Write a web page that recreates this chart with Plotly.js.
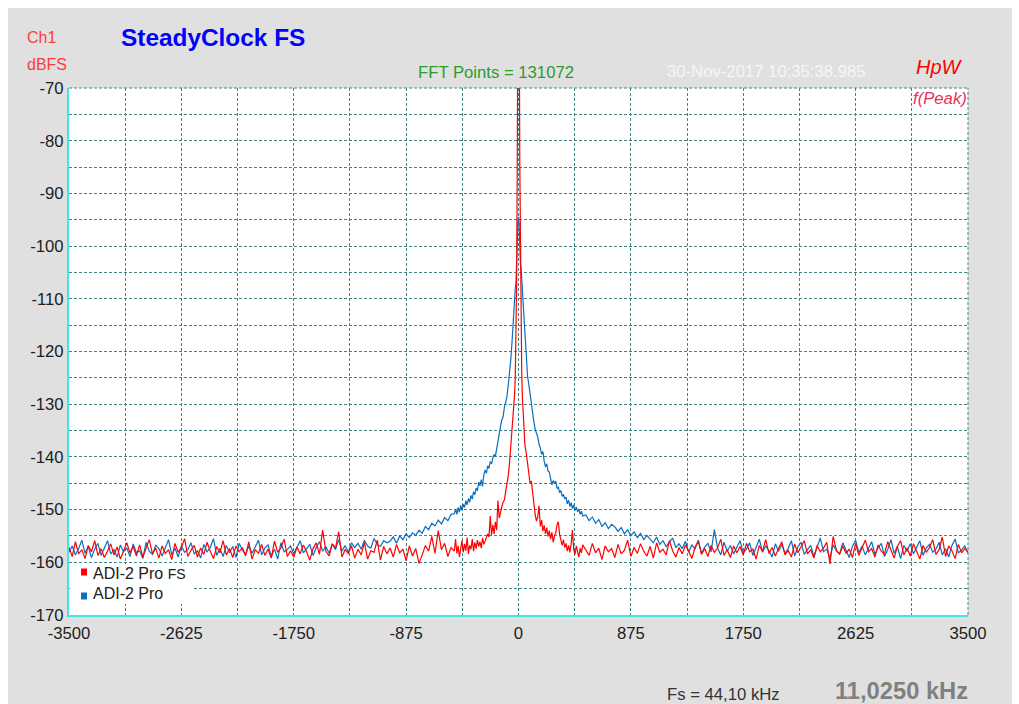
<!DOCTYPE html>
<html><head><meta charset="utf-8">
<script src="https://cdn.plot.ly/plotly-3.0.1.min.js"></script>
<style>
html,body{margin:0;padding:0;background:#ffffff;width:1019px;height:704px;overflow:hidden}
#chart{position:absolute;left:8px;top:8px;width:1004px;height:696px}
</style></head><body><div id="chart"></div>
<script>
// Frequency offset from the test tone (Hz), shared by both series
const freqHz = [
-3500,-3475,-3450,-3425,-3400,-3375,-3350,-3325,-3300,-3275,
-3250,-3225,-3200,-3175,-3150,-3125,-3100,-3075,-3050,-3025,
-3000,-2975,-2950,-2925,-2900,-2875,-2850,-2825,-2800,-2775,
-2750,-2725,-2700,-2675,-2650,-2625,-2600,-2575,-2550,-2525,
-2500,-2475,-2450,-2425,-2400,-2375,-2350,-2325,-2300,-2275,
-2250,-2225,-2200,-2175,-2150,-2125,-2100,-2075,-2050,-2025,
-2000,-1975,-1950,-1925,-1900,-1875,-1850,-1825,-1800,-1775,
-1750,-1725,-1700,-1675,-1650,-1625,-1600,-1575,-1550,-1525,
-1500,-1475,-1450,-1425,-1400,-1375,-1350,-1325,-1300,-1275,
-1250,-1225,-1200,-1175,-1150,-1125,-1100,-1075,-1050,-1025,
-1000,-975,-950,-925,-900,-875,-850,-825,-800,-775,
-750,-725,-700,-675,-650,-625,-600,-575,-550,-525,
-500,-490,-480,-470,-460,-450,-440,-430,-420,-410,
-400,-390,-380,-370,-360,-350,-340,-330,-320,-310,
-300,-290,-280,-270,-260,-250,-240,-230,-220,-210,
-200,-190,-180,-170,-160,-150,-140,-130,-120,-110,
-100,-90,-80,-70,-60,-50,
-45,-40,-35,-30,-25,-20,-15,-10,-5,0,5,10,15,20,25,30,35,40,45,
50,60,70,80,90,100,110,120,130,140,
150,160,170,180,190,200,210,220,230,240,
250,260,270,280,290,300,310,320,330,340,
350,360,370,380,390,400,410,420,430,440,
450,460,470,480,490,500,
525,550,575,600,625,650,675,700,725,750,
775,800,825,850,875,900,925,950,975,1000,
1025,1050,1075,1100,1125,1150,1175,1200,1225,1250,
1275,1300,1325,1350,1375,1400,1425,1450,1475,1500,
1525,1550,1575,1600,1625,1650,1675,1700,1725,1750,
1775,1800,1825,1850,1875,1900,1925,1950,1975,2000,
2025,2050,2075,2100,2125,2150,2175,2200,2225,2250,
2275,2300,2325,2350,2375,2400,2425,2450,2475,2500,
2525,2550,2575,2600,2625,2650,2675,2700,2725,2750,
2775,2800,2825,2850,2875,2900,2925,2950,2975,3000,
3025,3050,3075,3100,3125,3150,3175,3200,3225,3250,
3275,3300,3325,3350,3375,3400,3425,3450,3475,3500
];

// ADI-2 Pro FS (red), dBFS
const adi2ProFS = [
-157.2,-158.9,-156.1,-158.4,-157.6,-159.3,-156.8,-158.0,-155.9,-158.7,
-157.4,-159.1,-157.9,-156.5,-158.6,-157.1,-159.4,-157.8,-156.3,-158.2,
-157.0,-158.8,-156.7,-159.0,-157.5,-155.7,-158.4,-157.3,-159.2,-156.9,
-158.3,-157.6,-159.5,-156.4,-158.1,-157.2,-155.5,-158.9,-157.7,-156.8,
-159.0,-157.3,-158.5,-156.2,-157.9,-159.3,-157.0,-158.2,-155.9,-158.6,
-157.4,-159.1,-156.9,-158.0,-157.2,-158.8,-156.1,-159.4,-157.6,-158.3,
-156.6,-158.7,-157.5,-159.2,-156.0,-158.1,-157.3,-155.6,-158.9,-157.8,
-159.0,-157.1,-158.4,-156.7,-158.0,-159.6,-157.4,-156.3,-158.5,-153.9,
-157.9,-158.8,-156.5,-157.3,-154.2,-159.0,-157.6,-158.3,-156.9,-159.2,
-157.5,-158.6,-156.2,-159.4,-157.8,-158.1,-155.8,-159.6,-157.0,-158.4,
-157.3,-159.0,-156.6,-158.2,-157.5,-159.7,-156.9,-158.8,-157.4,-160.2,
-158.6,-156.8,-157.9,-155.1,-158.3,-154.0,-157.6,-156.4,-158.9,-157.2,
-157.9,-155.6,-158.3,-156.9,-159.0,-157.2,-155.9,-158.1,-156.5,-157.8,
-155.3,-158.4,-156.8,-157.5,-155.6,-157.9,-156.2,-157.4,-155.8,-157.0,
-156.1,-157.3,-155.4,-156.6,-155.9,-155.5,-154.6,-155.2,-151.2,-154.8,
-152.9,-154.6,-152.3,-153.9,-148.3,-151.6,-150.2,-149.5,-148.6,-148.2,
-146.6,-145.3,-143.6,-141.2,-138.0,-135.2,
-133.4,-131.8,-130.2,-128.0,-124.5,-118.0,-108.0,-86.0,-52.0,-20.0,-50.0,-84.0,-106.0,-117.0,-124.0,-128.5,-131.0,-134.5,-136.5,
-137.8,-139.2,-141.0,-143.4,-145.0,-144.6,-147.2,-148.8,-151.0,-152.2,
-151.4,-149.3,-153.2,-152.0,-154.1,-153.0,-154.6,-153.4,-155.1,-154.0,
-155.6,-154.3,-156.2,-155.0,-154.4,-152.9,-152.3,-154.7,-155.9,-156.8,
-155.7,-157.2,-156.4,-157.9,-156.8,-158.1,-156.5,-153.9,-157.6,-158.5,
-156.9,-157.8,-159.0,-157.3,-158.2,-156.7,
-157.6,-158.7,-156.4,-158.2,-157.3,-159.5,-156.9,-158.0,-157.4,-159.1,
-156.6,-158.4,-157.7,-155.8,-158.9,-157.2,-158.3,-156.5,-157.9,-158.8,
-157.0,-159.2,-156.3,-158.1,-157.5,-158.6,-155.9,-157.8,-159.0,-157.2,
-158.4,-156.7,-157.9,-159.3,-157.1,-156.0,-158.5,-157.4,-158.9,-156.8,
-158.1,-157.3,-155.6,-158.7,-157.6,-159.1,-156.9,-158.2,-157.0,-158.6,
-156.4,-158.0,-157.5,-159.4,-156.8,-157.9,-155.7,-158.3,-157.2,-158.8,
-157.4,-156.1,-158.6,-157.8,-159.0,-156.5,-158.2,-157.1,-155.9,-158.4,
-157.6,-159.2,-156.8,-158.0,-157.3,-156.2,-160.3,-155.1,-157.7,-158.5,
-156.9,-158.3,-157.5,-159.1,-156.4,-158.7,-157.2,-155.8,-158.0,-157.4,
-159.0,-156.7,-157.9,-158.4,-156.1,-157.6,-159.2,-157.0,-155.9,-158.6,
-157.3,-158.8,-156.5,-157.9,-159.4,-156.8,-158.1,-157.2,-155.7,-158.5,
-157.6,-155.2,-158.9,-156.9,-157.8,-159.3,-156.6,-158.2,-157.4,-158.0
];

// ADI-2 Pro (blue), dBFS
const adi2Pro = [
-158.1,-156.9,-158.6,-157.4,-155.8,-158.3,-157.0,-159.1,-157.5,-156.4,
-158.7,-157.2,-155.9,-158.4,-157.6,-159.0,-156.7,-158.0,-157.3,-158.9,
-156.5,-158.2,-157.8,-159.3,-156.2,-157.9,-158.5,-156.8,-157.4,-158.8,
-157.1,-155.7,-158.6,-157.3,-159.0,-156.9,-158.1,-157.6,-156.3,-158.4,
-157.8,-159.2,-156.6,-158.0,-157.2,-155.5,-158.7,-157.4,-158.9,-156.8,
-158.2,-157.0,-159.1,-156.4,-157.7,-158.5,-156.9,-158.3,-157.1,-155.8,
-158.6,-157.3,-156.7,-158.9,-157.5,-159.4,-156.3,-158.0,-157.6,-156.9,
-158.4,-157.0,-155.9,-158.2,-157.4,-156.6,-158.7,-157.2,-156.1,-157.9,
-157.0,-158.3,-156.5,-157.6,-155.7,-157.9,-156.8,-158.1,-156.3,-157.2,
-156.4,-157.5,-155.8,-156.9,-157.3,-155.5,-156.6,-157.0,-155.9,-156.3,
-156.0,-155.2,-156.4,-155.0,-155.7,-154.6,-155.3,-154.4,-154.9,-153.9,
-154.5,-153.2,-153.8,-152.6,-153.1,-152.0,-152.7,-151.5,-152.1,-150.9,
-150.8,-149.9,-150.9,-149.6,-150.5,-149.2,-150.1,-149.0,-149.6,-148.3,
-149.1,-147.9,-148.6,-147.3,-148.0,-146.6,-147.2,-145.9,-146.4,-144.8,
-145.5,-144.3,-145.6,-143.4,-142.5,-143.1,-141.7,-142.2,-140.9,-141.3,
-140.2,-139.6,-139.9,-138.4,-136.7,-135.0,-134.2,-133.0,-132.4,-130.6,
-129.5,-128.6,-126.4,-124.2,-121.5,-118.0,
-116.0,-114.0,-111.5,-108.5,-108.0,-107.0,-104.5,-99.5,-95.5,-94.5,-96.0,-101.5,-103.5,-104.0,-106.5,-109.0,-111.5,-113.5,-114.5,
-116.5,-120.3,-124.6,-126.2,-128.0,-130.2,-132.5,-133.4,-134.8,-135.6,
-136.2,-137.6,-138.3,-139.5,-139.0,-140.8,-141.9,-141.3,-142.7,-142.9,
-144.1,-145.3,-144.5,-145.0,-144.6,-146.0,-145.7,-146.8,-146.4,-147.5,
-147.1,-148.0,-147.6,-148.9,-148.2,-149.4,-148.7,-149.8,-149.1,-150.2,
-149.5,-150.4,-149.9,-150.9,-150.3,-151.2,
-151.0,-152.1,-151.4,-152.6,-151.9,-153.2,-152.5,-153.6,-152.8,-153.3,
-154.1,-153.4,-154.6,-153.8,-155.0,-154.2,-155.3,-154.5,-155.7,-154.9,
-155.6,-156.3,-155.2,-156.6,-155.9,-157.0,-156.1,-155.4,-157.2,-156.5,
-157.4,-156.0,-158.1,-156.7,-157.5,-155.8,-158.3,-157.1,-156.4,-158.0,
-153.8,-157.3,-158.6,-156.2,-157.9,-156.8,-158.4,-157.0,-155.9,-158.2,
-157.5,-156.3,-158.7,-157.2,-155.6,-158.1,-156.9,-157.8,-159.0,-156.5,
-157.9,-156.6,-158.3,-157.4,-155.9,-158.8,-157.1,-156.2,-158.5,-157.6,
-156.8,-158.9,-157.3,-155.4,-158.0,-157.5,-159.2,-156.7,-157.8,-158.4,
-156.3,-157.7,-159.1,-157.0,-155.8,-158.2,-156.9,-158.6,-157.4,-156.1,
-158.5,-157.2,-156.4,-158.9,-157.6,-155.7,-158.3,-157.0,-159.3,-156.8,
-157.9,-156.5,-158.4,-157.1,-155.9,-158.7,-157.3,-156.6,-158.1,-157.5,
-156.2,-158.6,-157.4,-159.0,-156.8,-155.6,-158.2,-157.7,-156.9,-158.3
];

const seriesNames = ['ADI-2 Pro FS', 'ADI-2 Pro'];
const xTickVals = [-3500,-2625,-1750,-875,0,875,1750,2625,3500];
const xTickText = ['-3500','-2625','-1750','-875','0','875','1750','2625','3500'];
const yTickVals = [-70,-80,-90,-100,-110,-120,-130,-140,-150,-160,-170];
const yTickText = ['-70','-80','-90','-100','-110','-120','-130','-140','-150','-160','-170'];

if (adi2ProFS.length !== freqHz.length || adi2Pro.length !== freqHz.length) {
  throw new Error('length mismatch ' + freqHz.length + ' ' + adi2ProFS.length + ' ' + adi2Pro.length);
}

const FONT = 'Liberation Sans, Arial, sans-serif';
const GRID = '#3f8585';
const DASH = '3px,2px';
const RED = '#ff0000';
const BLUE = '#0b6fc0';

const traces = [
  {x: freqHz, y: adi2Pro, name: seriesNames[1], type: 'scatter', mode: 'lines',
   line: {color: BLUE, width: 1.2}, showlegend: false},
  {x: freqHz, y: adi2ProFS, name: seriesNames[0], type: 'scatter', mode: 'lines',
   line: {color: RED, width: 1.2}, showlegend: false}
];

function ann(text, x, y, xa, size, color, extra) {
  return Object.assign({text: text, x: x, y: y, xref: 'paper', yref: 'paper',
    xanchor: xa, yanchor: 'middle', showarrow: false, borderpad: 0, borderwidth: 0,
    font: {family: FONT, size: size, color: color}}, extra || {});
}

// plot area on page: x 69..968, y 88..615
const layout = {
  width: 1004, height: 696,
  margin: {l: 61, r: 44, t: 80, b: 89},
  paper_bgcolor: '#e0e0e0',
  plot_bgcolor: '#ffffff',
  showlegend: false,
  xaxis: {
    range: [-3500, 3500], tickmode: 'array', tickvals: xTickVals, ticktext: xTickText,
    showgrid: true, gridcolor: GRID, griddash: DASH, gridwidth: 1,
    minor: {tickmode: 'linear', tick0: -3500, dtick: 437.5, showgrid: true, gridcolor: GRID, griddash: DASH, gridwidth: 1},
    showline: true, linecolor: '#3ee6e6', linewidth: 2, zeroline: false, ticks: '',
    ticklabelstandoff: 2,
    tickfont: {family: FONT, size: 16.7, color: '#202020'}
  },
  yaxis: {
    range: [-170, -70], tickmode: 'array', tickvals: yTickVals, ticktext: yTickText,
    showgrid: true, gridcolor: GRID, griddash: DASH, gridwidth: 1,
    minor: {tickmode: 'linear', tick0: -170, dtick: 5, showgrid: true, gridcolor: GRID, griddash: DASH, gridwidth: 1},
    showline: true, linecolor: '#3ee6e6', linewidth: 2, zeroline: false, ticks: '',
    ticklabelstandoff: 0,
    tickfont: {family: FONT, size: 16.7, color: '#202020'}
  },
  shapes: [
    {type: 'line', xref: 'paper', yref: 'paper', x0: 0, x1: 1, y0: 1, y1: 1, line: {color: GRID, width: 1, dash: DASH}},
    {type: 'line', xref: 'paper', yref: 'paper', x0: 1, x1: 1, y0: 0, y1: 1, line: {color: GRID, width: 1, dash: DASH}},
    {type: 'rect', xref: 'paper', yref: 'paper', x0: 0.001, x1: 0.138, y0: 0.02087, y1: 0.09677, layer: 'above', fillcolor: '#ffffff', line: {width: 0}},
    {type: 'rect', xref: 'paper', yref: 'paper', x0: 0.0134, x1: 0.0200, y0: 0.07495, y1: 0.08824, layer: 'above', fillcolor: RED, line: {width: 0}},
    {type: 'rect', xref: 'paper', yref: 'paper', x0: 0.0134, x1: 0.0200, y0: 0.02941, y1: 0.04269, layer: 'above', fillcolor: BLUE, line: {width: 0}}
  ],
  annotations: [
    ann('Ch1', -0.0467, 1.0958, 'left', 16, '#ff3c3c'),
    ann('dBFS', -0.0467, 1.04554, 'left', 16, '#ff3c3c'),
    ann('<b>SteadyClock FS</b>', 0.0578, 1.0949, 'left', 24.4, '#0000ff'),
    ann('FFT Points = 131072', 0.3882, 1.03036, 'left', 16.7, '#2e9a2e'),
    ann('30-Nov-2017 10:35:38.985', 0.6652, 1.03093, 'left', 16.7, '#f6f6f6'),
    ann('HpW', 0.9422, 1.03985, 'left', 20, '#ff0000', {font: {family: FONT, size: 20, color: '#ff0000', style: 'italic'}}),
    ann('f(Peak)', 0.99889, 0.97913, 'right', 16.7, '#e8305a', {font: {family: FONT, size: 16.7, color: '#e8305a', style: 'italic'}}),
    ann('Fs = 44,10 kHz', 0.6652, -0.14991, 'left', 16.7, '#333333'),
    ann('<b>11,0250 kHz</b>', 1.0, -0.14516, 'right', 23.7, '#808080'),
    ann(seriesNames[0].replace(' FS', ' <span style="font-size:14px">FS</span>'), 0.0267, 0.0778, 'left', 16, '#202020'),
    ann(seriesNames[1], 0.0267, 0.03985, 'left', 16, '#202020')
  ]
};

Plotly.newPlot('chart', traces, layout, {staticPlot: true, displayModeBar: false});
</script>
</body></html>
